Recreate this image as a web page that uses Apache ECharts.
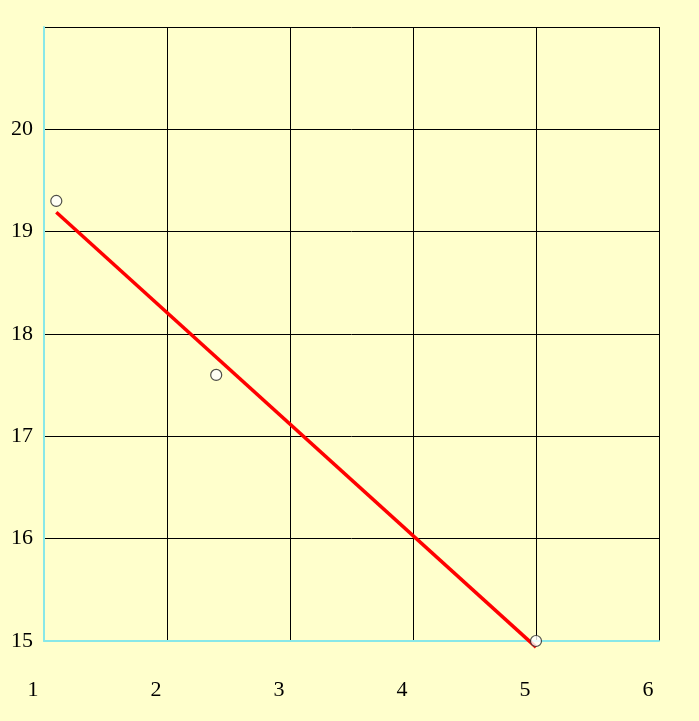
<!DOCTYPE html>
<html>
<head>
<meta charset="utf-8">
<script src="https://cdn.jsdelivr.net/npm/echarts@6/dist/echarts.min.js"></script>
<style>
  html, body { margin: 0; padding: 0; background: #ffffcc; }
  #chart { width: 699px; height: 721px; }
</style>
</head>
<body>
<div id="chart"></div>
<script>
// observed points
const pointsX = [1.1, 2.4, 5.0];
const pointsY = [19.3, 17.6, 15.0];
// fitted line ends
const fitX = [1.1, 5.0];
const fitY = [19.19, 14.94];
const yLabels = ['15', '16', '17', '18', '19', '20'];

const chart = echarts.init(document.getElementById('chart'));

const font = {fontFamily: 'Liberation Serif', fontSize: 22, color: '#000'};

chart.setOption({
    backgroundColor: '#ffffcc',
    animation: false,
    grid: {left: 44, right: 40, top: 27, bottom: 80},
    xAxis: {
        type: 'value',
        min: 1, max: 6, interval: 1,
        axisLine: {show: true, onZero: false, lineStyle: {color: '#88e8e8', width: 2}},
        axisTick: {show: false},
        splitLine: {show: true, lineStyle: {color: '#000', width: 1}},
        axisLabel: Object.assign({margin: 38, padding: [0, 22, 0, 0]}, font),
    },
    yAxis: {
        type: 'value',
        min: 15, max: 21, interval: 1,
        axisLine: {show: true, onZero: false, lineStyle: {color: '#88e8e8', width: 2}},
        axisTick: {show: false},
        splitLine: {show: true, lineStyle: {color: '#000', width: 1}},
        axisLabel: Object.assign({
            margin: 11,
            formatter: (v) => yLabels.includes(String(v)) ? String(v) : ''
        }, font),
    },
    series: [
        {
            type: 'line',
            data: fitX.map((x, i) => [x, fitY[i]]),
            symbol: 'none',
            clip: false,
            lineStyle: {color: '#ff0000', width: 3.5},
            z: 3,
        },
        {
            type: 'scatter',
            data: pointsX.map((x, i) => [x, pointsY[i]]),
            symbol: 'circle',
            symbolSize: 11,
            clip: false,
            itemStyle: {color: '#ffffff', borderColor: '#222', borderWidth: 1.2},
            z: 5,
        },
    ],
});
</script>
</body>
</html>
